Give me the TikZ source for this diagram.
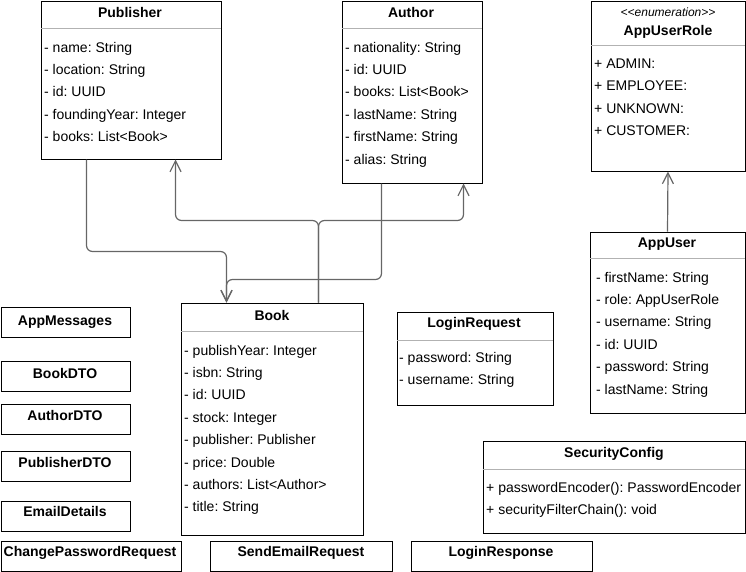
\documentclass[tikz,border=0pt]{standalone}
\usepackage{fontspec}
\setmainfont{Liberation Sans}
\usetikzlibrary{arrows.meta}
\frenchspacing
\begin{document}
\begin{tikzpicture}[x=1pt, y=-1pt, font=\fontsize{14}{16}\selectfont,
	box/.style={draw, line width=1pt, fill=white, anchor=north west, inner sep=0pt},
	title/.style={font=\fontsize{14}{16}\selectfont\bfseries, inner sep=0pt, anchor=base},
	attr/.style={anchor=base west, inner sep=0pt},
	sep/.style={gray!60, line width=.8pt},
	link/.style={draw=black!60, line width=1.2pt, rounded corners=6pt, -{Straight Barb[length=11pt, width=11pt]}}]
	\useasboundingbox (0,0) rectangle (746,571);
	% boxes with members
	\node[box, minimum width=180pt, minimum height=158pt] (publisher) at (40.5,0.5) {};
	\node[title] at (130,17) {Publisher};
	\draw[sep] (40.5,28) -- (220.5,28);
	\foreach \t [count=\i] in {name: String, location: String, id: UUID, foundingYear: Integer, books: List<Book>}
	\node[attr] at (44, 29.6+22.4*\i) {- \t};
	\node[box, minimum width=140pt, minimum height=182pt] (author) at (341.5,0.5) {};
	\node[title] at (411,17) {Author};
	\draw[sep] (341.5,28) -- (481.5,28);
	\foreach \t [count=\i] in {nationality: String, id: UUID, books: List<Book>, lastName: String, firstName: String, alias: String}
	\node[attr] at (345, 29.6+22.4*\i) {- \t};
	\node[box, minimum width=154pt, minimum height=170pt] (role) at (590.5,0.5) {};
	\node[anchor=base, inner sep=0pt, font=\fontsize{12}{14}\selectfont\itshape] at (668,16) {<{}<enumeration>{}>};
	\node[title] at (668,35) {AppUserRole};
	\draw[sep] (590.5,45) -- (744.5,45);
	\foreach \t [count=\i] in {ADMIN:, EMPLOYEE:, UNKNOWN:, CUSTOMER:}
	\node[attr] at (594, 45.4+22.6*\i) {+ \t};
	\node[box, minimum width=155pt, minimum height=181pt] (appuser) at (589.5,231.5) {};
	\node[title] at (667,247) {AppUser};
	\draw[sep] (589.5,258) -- (744.5,258);
	\foreach \t [count=\i] in {firstName: String, role: AppUserRole, username: String, id: UUID, password: String, lastName: String}
	\node[attr] at (596, 259.6+22.4*\i) {- \t};
	\node[box, minimum width=182pt, minimum height=232pt] (book) at (180.5,302.5) {};
	\node[title] at (272,320) {Book};
	\draw[sep] (180.5,331) -- (362.5,331);
	\foreach \t [count=\i] in {publishYear: Integer, isbn: String, id: UUID, stock: Integer, publisher: Publisher, price: Double, authors: List<Author>, title: String}
	\node[attr] at (184, 332.6+22.4*\i) {- \t};
	\node[box, minimum width=156pt, minimum height=93pt] (loginreq) at (396.5,311.5) {};
	\node[title] at (474,327) {LoginRequest};
	\draw[sep] (396.5,340) -- (552.5,340);
	\foreach \t [count=\i] in {password: String, username: String}
	\node[attr] at (399, 339.6+22.4*\i) {- \t};
	\node[box, minimum width=262pt, minimum height=92pt] (security) at (482.5,440.5) {};
	\node[title] at (614,457) {SecurityConfig};
	\draw[sep] (482.5,469) -- (744.5,469);
	\node[attr] at (486,492) {+ passwordEncoder(): PasswordEncoder};
	\node[attr] at (486,514) {+ securityFilterChain(): void};
	% plain classes
	\node[box, minimum width=129pt, minimum height=30pt] (messages) at (0.5,306.5) {};
	\node[title] at (65,325.5) {AppMessages};
	\node[box, minimum width=129pt, minimum height=30pt] (bookdto) at (0.5,360.5) {};
	\node[title] at (65,378.5) {BookDTO};
	\node[box, minimum width=129pt, minimum height=30pt] (authordto) at (0.5,403.5) {};
	\node[title] at (65,420.5) {AuthorDTO};
	\node[box, minimum width=129pt, minimum height=30pt] (publisherdto) at (0.5,450.5) {};
	\node[title] at (65,467.5) {PublisherDTO};
	\node[box, minimum width=129pt, minimum height=30pt] (emaildetails) at (0.5,500.5) {};
	\node[title] at (65,516.5) {EmailDetails};
	\node[box, minimum width=180pt, minimum height=30pt] (changepw) at (0.5,540.5) {};
	\node[title] at (90,556.5) {ChangePasswordRequest};
	\node[box, minimum width=182pt, minimum height=30pt] (sendemail) at (209.5,540.5) {};
	\node[title] at (301,556.5) {SendEmailRequest};
	\node[box, minimum width=181pt, minimum height=30pt] (loginresp) at (410.5,540.5) {};
	\node[title] at (501,556.5) {LoginResponse};
	% associations
	\draw[link] ([xshift=46pt]publisher.south west) -- ++(0,92) -| ([xshift=46pt]book.north west);
	\draw[link] ([xshift=40pt]author.south west) -- ++(0,96) -| ([xshift=46pt]book.north west);
	\draw[link] ([xshift=138pt]book.north west) -- ++(0,-82) -| ([xshift=135pt]publisher.south west);
	\draw[link] ([xshift=138pt]book.north west) -- ++(0,-82) -| ([xshift=122pt]author.south west);
	\draw[link] (appuser.north) -- (role.south);
\end{tikzpicture}
\end{document}
